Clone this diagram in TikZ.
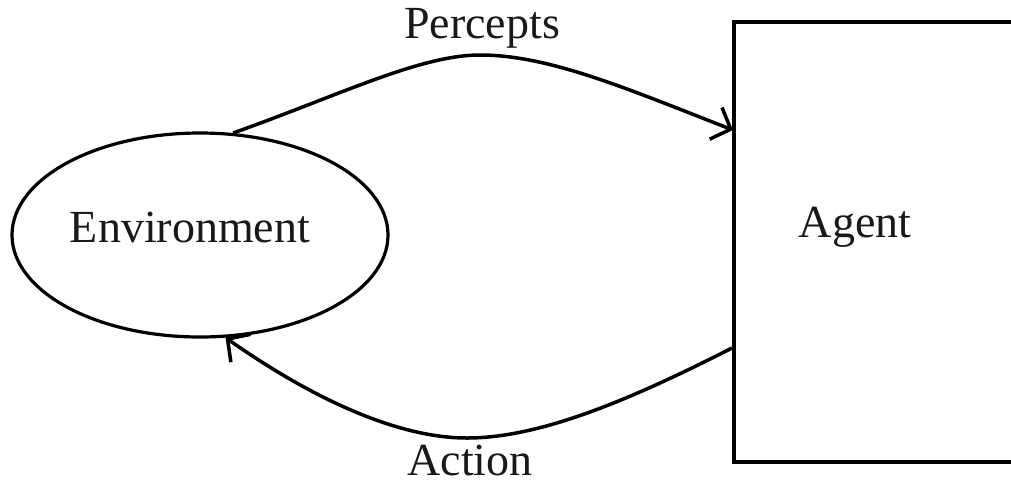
\documentclass[tikz,border=0pt]{standalone}
\usepackage{fontspec}
\setmainfont{Liberation Serif}
\usetikzlibrary{shapes.geometric,arrows.meta,calc}
\begin{document}
\begin{tikzpicture}[x=1pt,y=1pt,
  lbl/.style={font=\fontsize{46}{50}\selectfont, text=black!90, inner sep=0pt},
  conn/.style={line width=3.5pt, -{Straight Barb[length=16pt,width=34pt,line width=3.5pt]}}]
\useasboundingbox (0,0) rectangle (1011,-483);
\node[draw, ellipse, line width=3.2pt, minimum width=376pt, minimum height=204pt, inner sep=0pt] (env) at (200,-235) {};
\node[lbl] (envtext) at (190,-227) {Environment};
\node[draw, rectangle, line width=4pt, minimum width=400pt, minimum height=440pt, anchor=north west, inner sep=0pt] (agent) at (732,-20) {};
\node[lbl] (agenttext) at (855,-227) {Agent};
\node[lbl] (percepts) at (482,-28) {Percepts};
\node[lbl] (action) at (470,-460) {Action};
\coordinate (ptop) at (480,-55);
\coordinate (pbot) at (467,-438);
\draw[conn] (env.72) .. controls (340,-95) and (420,-55) .. (ptop)
  .. controls (550,-55) and (630,-90) .. ($(agent.north west)+(1,-110)$);
\draw[conn] ($(agent.north west)+(0,-328)$) .. controls (630,-400) and (540,-438) .. (pbot)
  .. controls (390,-438) and (300,-390) .. (env.-76);
\end{tikzpicture}
\end{document}
